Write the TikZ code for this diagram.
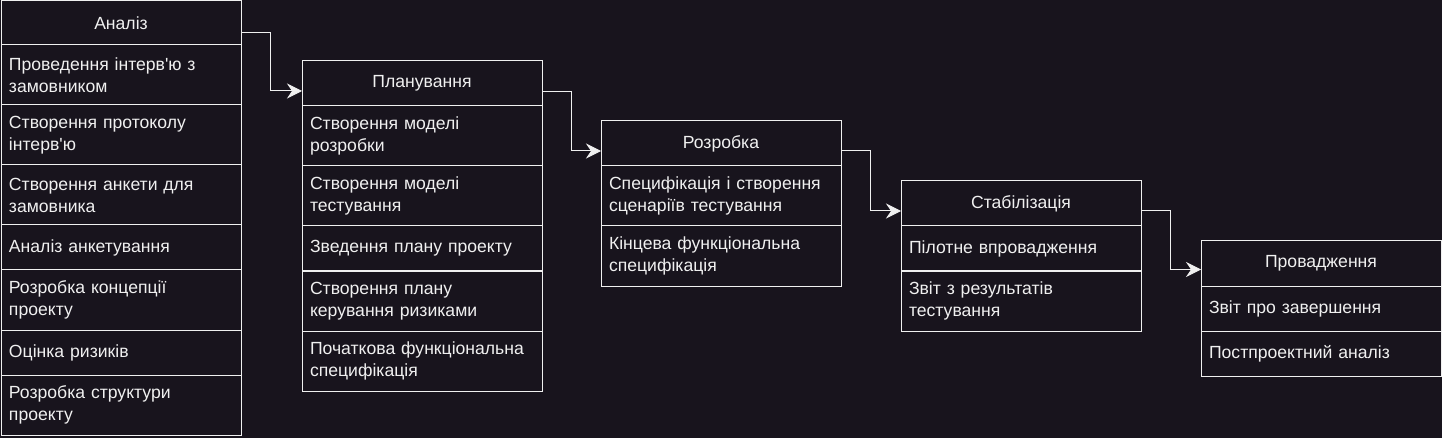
\documentclass[tikz,border=0pt]{standalone}
\usepackage{fontspec}
\setmainfont{Liberation Sans}[Ligatures=TeXOff]
\usetikzlibrary{arrows.meta}
\definecolor{bgc}{HTML}{18141D}
\definecolor{fgc}{HTML}{F0F0F0}
\tikzset{
  hdr/.style={draw=fgc, fill=bgc, line width=1pt, text=fgc, anchor=north west,
    minimum width=240pt, minimum height=45pt, inner sep=0pt, outer sep=0pt,
    font=\fontsize{17.6}{22}\selectfont},
  rowbox/.style={draw=fgc, fill=bgc, line width=1pt, text=fgc, anchor=north west,
    text width=224pt, align=left, inner xsep=8pt, inner ysep=0pt, outer sep=0pt,
    minimum height=#1, font=\fontsize{17.6}{22}\selectfont},
  rowbox/.default=60pt,
  conn/.style={draw=fgc, line width=1pt, -{Stealth[length=15pt,width=15pt,inset=5pt,fill=fgc]}}
}
\begin{document}
\begin{tikzpicture}[x=1pt,y=-1pt]
\fill[bgc] (0,0) rectangle (1442,438);
\useasboundingbox (0,0) rectangle (1442,438);
% Box 1
\node[hdr] (h1) at (1,1) {Аналіз};
\node[rowbox] (a1) at (1,45) {Проведення інтерв'ю з\\замовником};
\node[rowbox] (a2) at (1,105) {Створення протоколу\\інтерв'ю};
\node[rowbox] (a3) at (1,165) {Створення анкети для\\замовника};
\node[rowbox=45pt] (a4) at (1,225) {Аналіз анкетування};
\node[rowbox] (a5) at (1,270) {Розробка концепції\\проекту};
\node[rowbox=45pt] (a6) at (1,330) {Оцінка ризиків};
\node[rowbox] (a7) at (1,375) {Розробка структури\\проекту};
% Box 2
\node[hdr] (h2) at (302,61) {Планування};
\node[rowbox] (b1) at (302,106) {Створення моделі\\розробки};
\node[rowbox] (b2) at (302,166) {Створення моделі\\тестування};
\node[rowbox=45pt] (b3) at (302,226) {Зведення плану проекту};
\node[rowbox] (b4) at (302,271) {Створення плану\\керування ризиками};
\node[rowbox] (b5) at (302,331) {Початкова функціональна\\специфікація};
% Box 3
\node[hdr] (h3) at (601,121) {Розробка};
\node[rowbox] (c1) at (601,166) {Специфікація і створення\\сценаріїв тестування};
\node[rowbox] (c2) at (601,226) {Кінцева функціональна\\специфікація};
% Box 4
\node[hdr] (h4) at (901,181) {Стабілізація};
\node[rowbox=45pt] (d1) at (901,226) {Пілотне впровадження};
\node[rowbox] (d2) at (901,271) {Звіт з результатів\\тестування};
% Box 5
\node[hdr] (h5) at (1201,241) {Провадження};
\node[rowbox=45pt] (e1) at (1201,286) {Звіт про завершення};
\node[rowbox=45pt] (e2) at (1201,331) {Постпроектний аналіз};
% Connectors
\draw[conn] ([yshift=-9pt]h1.east) -- ++(29,0) |- ([yshift=-7.5pt]h2.west);
\draw[conn] ([yshift=-8.5pt]h2.east) -- ++(29,0) |- ([yshift=-7.5pt]h3.west);
\draw[conn] ([yshift=-7.5pt]h3.east) -- ++(29,0) |- ([yshift=-7.5pt]h4.west);
\draw[conn] ([yshift=-7.5pt]h4.east) -- ++(29,0) |- ([yshift=-6pt]h5.west);
\end{tikzpicture}
\end{document}
